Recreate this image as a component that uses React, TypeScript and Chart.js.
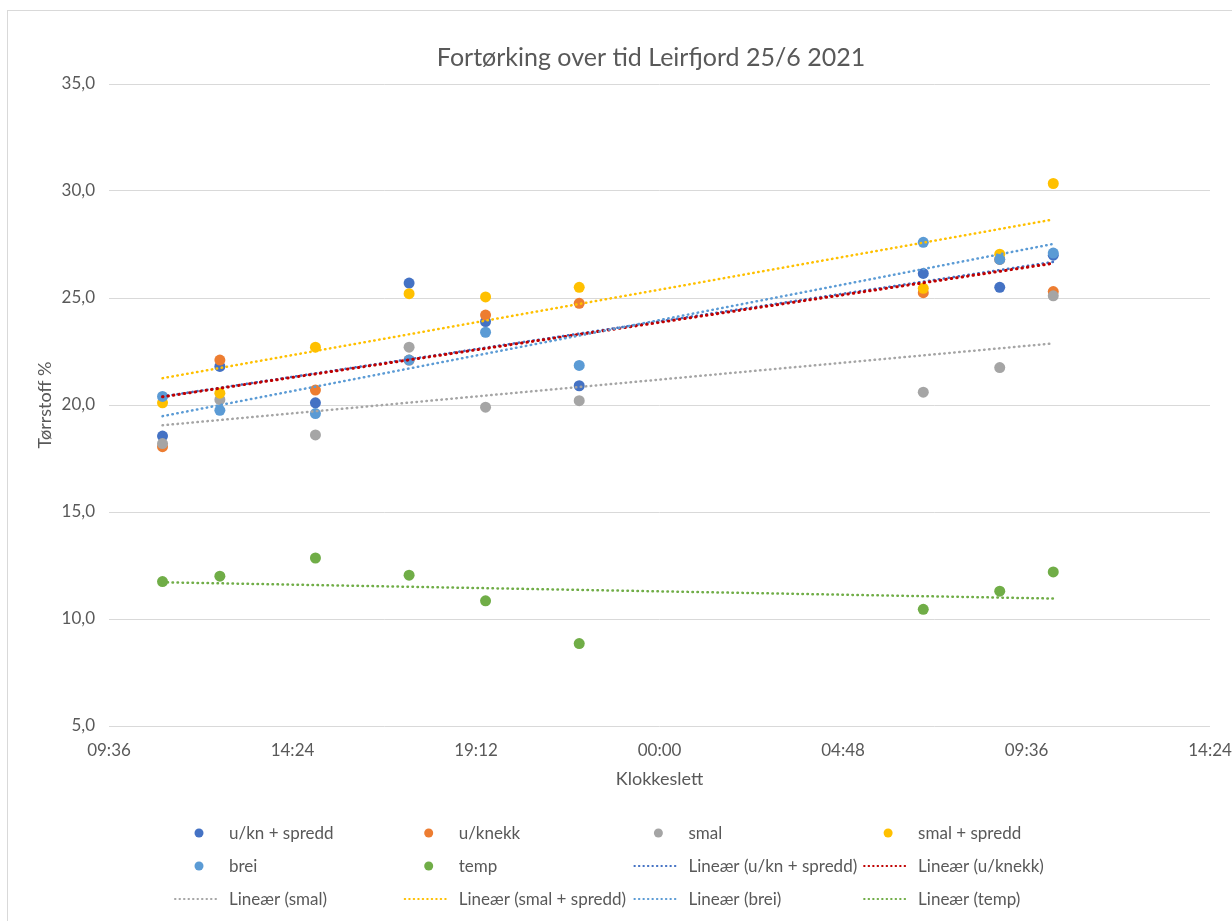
import React, { useEffect, useRef } from "react";
import { Chart, registerables } from "chart.js";

Chart.register(...registerables);

// Sampling times in hours from midnight on 25 June (values above 24 are the next morning)
const sampleHours = [11.0, 12.5, 15.0, 17.45, 19.45, 21.9, 30.9, 32.9, 34.3];

// Dry matter (%) per treatment
const ukSpredd = [18.55, 21.8, 20.1, 25.7, 23.9, 20.9, 26.15, 25.5, 27.0];
const uKnekk = [18.05, 22.1, 20.7, 22.1, 24.2, 24.75, 25.25, 26.8, 25.3];
const smal = [18.2, 20.25, 18.6, 22.7, 19.9, 20.2, 20.6, 21.75, 25.1];
const smalSpredd = [20.1, 20.55, 22.7, 25.2, 25.05, 25.5, 25.45, 27.05, 30.35];
const brei = [20.4, 19.75, 19.6, 22.1, 23.4, 21.85, 27.6, 26.8, 27.1];
const temp = [11.75, 12.0, 12.85, 12.05, 10.85, 8.85, 10.45, 11.3, 12.2];

const seriesNames = ["u/kn + spredd", "u/knekk", "smal", "smal + spredd", "brei", "temp"];
const seriesValues = [ukSpredd, uKnekk, smal, smalSpredd, brei, temp];
const seriesColors = ["#4472C4", "#ED7D31", "#A5A5A5", "#FFC000", "#5B9BD5", "#70AD47"];
const trendColors = ["#4472C4", "#C00000", "#A5A5A5", "#FFC000", "#5B9BD5", "#70AD47"];

// Time axis: 09:36 to 14:24 the next day, every 4.8 hours
const xTickLabels = ["09:36", "14:24", "19:12", "00:00", "04:48", "09:36", "14:24"];
const xMin = 9.6;
const xStep = 4.8;
const yMin = 5;
const yMax = 35;
const yStep = 5;

const chartTitle = "Fortørking over tid Leirfjord 25/6 2021";

const FONT = "Lato, 'Open Sans', sans-serif";
const TEXT = "#595959";

// Least-squares line through a series, evaluated at the first and last sample time
function linearTrend(xs: number[], ys: number[]) {
  const n = xs.length;
  const mx = xs.reduce((a, b) => a + b, 0) / n;
  const my = ys.reduce((a, b) => a + b, 0) / n;
  let sxy = 0;
  let sxx = 0;
  for (let i = 0; i < n; i++) {
    sxy += (xs[i] - mx) * (ys[i] - my);
    sxx += (xs[i] - mx) * (xs[i] - mx);
  }
  const slope = sxy / sxx;
  const x0 = Math.min(...xs);
  const x1 = Math.max(...xs);
  return [
    { x: x0, y: my + slope * (x0 - mx) },
    { x: x1, y: my + slope * (x1 - mx) },
  ];
}

// White chart background, thin outer border and the centred heading
const frame = {
  id: "frame",
  beforeDraw(chart: any) {
    const { ctx, width, height } = chart;
    ctx.save();
    ctx.fillStyle = "#ffffff";
    ctx.fillRect(0, 0, width, height);
    ctx.strokeStyle = "#D9D9D9";
    ctx.lineWidth = 1;
    ctx.strokeRect(7.5, 10.5, width + 20, height + 20);
    ctx.fillStyle = TEXT;
    ctx.font = `25px ${FONT}`;
    ctx.textAlign = "center";
    ctx.textBaseline = "alphabetic";
    ctx.fillText(chartTitle, 651, 66);
    ctx.restore();
  },
};

// Four-column legend under the axis
const gridLegend = {
  id: "gridLegend",
  afterDraw(chart: any) {
    const { ctx } = chart;
    const colLeft = 173;
    const colWidth = 229.7;
    const rowTop = 833;
    const rowHeight = 33;
    ctx.save();
    ctx.font = `17px ${FONT}`;
    ctx.textBaseline = "middle";
    ctx.textAlign = "left";
    chart.data.datasets.forEach((ds: any, i: number) => {
      const col = i % 4;
      const row = Math.floor(i / 4);
      const x = colLeft + col * colWidth;
      const y = rowTop + row * rowHeight;
      if (ds.showLine) {
        ctx.save();
        ctx.strokeStyle = ds.borderColor;
        ctx.lineWidth = 2;
        ctx.lineCap = "round";
        ctx.setLineDash([0.5, 4]);
        ctx.beginPath();
        ctx.moveTo(x + 2, y);
        ctx.lineTo(x + 46, y);
        ctx.stroke();
        ctx.restore();
      } else {
        ctx.fillStyle = ds.backgroundColor;
        ctx.beginPath();
        ctx.arc(x + 26, y, 4.5, 0, Math.PI * 2);
        ctx.fill();
      }
      ctx.fillStyle = TEXT;
      ctx.fillText(ds.label, x + 56, y + 1);
    });
    ctx.restore();
  },
};

export default function App() {
  const canvasRef = useRef<HTMLCanvasElement | null>(null);

  useEffect(() => {
    if (!canvasRef.current) return;

    const markerSets = seriesNames.map((name, i) => ({
      type: "scatter" as const,
      label: name,
      data: sampleHours.map((h, k) => ({ x: h, y: seriesValues[i][k] })),
      backgroundColor: seriesColors[i],
      borderColor: seriesColors[i],
      pointRadius: 5.5,
      pointBorderWidth: 0,
      showLine: false,
      order: 20 - i,
    }));

    const trendSets = seriesNames.map((name, i) => ({
      type: "scatter" as const,
      label: `Lineær (${name})`,
      data: linearTrend(sampleHours, seriesValues[i]),
      borderColor: trendColors[i],
      backgroundColor: trendColors[i],
      borderWidth: i === 1 ? 3 : 2.5,
      borderDash: i === 1 ? [0.5, 5] : [0.5, 4.5],
      borderCapStyle: "round" as const,
      pointRadius: 0,
      showLine: true,
      order: 10 - i,
    }));

    const chart = new Chart(canvasRef.current, {
      type: "scatter",
      data: { datasets: [...markerSets, ...trendSets] as any },
      options: {
        animation: false,
        responsive: false,
        devicePixelRatio: 1,
        layout: { padding: { left: 30, right: 22, top: 84, bottom: 125 } },
        plugins: {
          legend: { display: false },
          tooltip: { enabled: false },
          title: { display: false },
        },
        scales: {
          x: {
            type: "linear",
            min: xMin,
            max: xMin + xStep * (xTickLabels.length - 1),
            afterBuildTicks: (scale: any) => {
              scale.ticks = xTickLabels.map((_, i) => ({ value: xMin + xStep * i }));
            },
            afterFit: (scale: any) => {
              scale.height = 70;
              scale.paddingLeft = 0;
              scale.paddingRight = 0;
            },
            ticks: {
              autoSkip: false,
              maxRotation: 0,
              padding: 14,
              color: TEXT,
              font: { family: FONT, size: 17 },
              callback: (_v: any, index: number) => xTickLabels[index],
            },
            grid: { display: false, drawTicks: false },
            border: { display: false },
            title: {
              display: true,
              text: "Klokkeslett",
              color: TEXT,
              font: { family: FONT, size: 18 },
              padding: { top: 0, bottom: 6 },
            },
          },
          y: {
            type: "linear",
            min: yMin,
            max: yMax,
            afterFit: (scale: any) => {
              scale.width = 79;
              scale.paddingTop = 0;
              scale.paddingBottom = 0;
            },
            ticks: {
              stepSize: yStep,
              padding: 14,
              color: TEXT,
              font: { family: FONT, size: 17 },
              callback: (v: any) => Number(v).toFixed(1).replace(".", ","),
            },
            grid: { color: "#D9D9D9", lineWidth: 1, drawTicks: false },
            border: { display: false },
            title: {
              display: true,
              text: "Tørrstoff %",
              color: TEXT,
              font: { family: FONT, size: 18 },
              padding: { top: 4, bottom: 0 },
            },
          },
        },
      },
      plugins: [frame, gridLegend],
    });

    return () => chart.destroy();
  }, []);

  return (
    <div style={{ position: "absolute", left: 0, top: 0, width: 1232, height: 921 }}>
      <canvas ref={canvasRef} width={1232} height={921} style={{ width: 1232, height: 921 }} />
    </div>
  );
}
